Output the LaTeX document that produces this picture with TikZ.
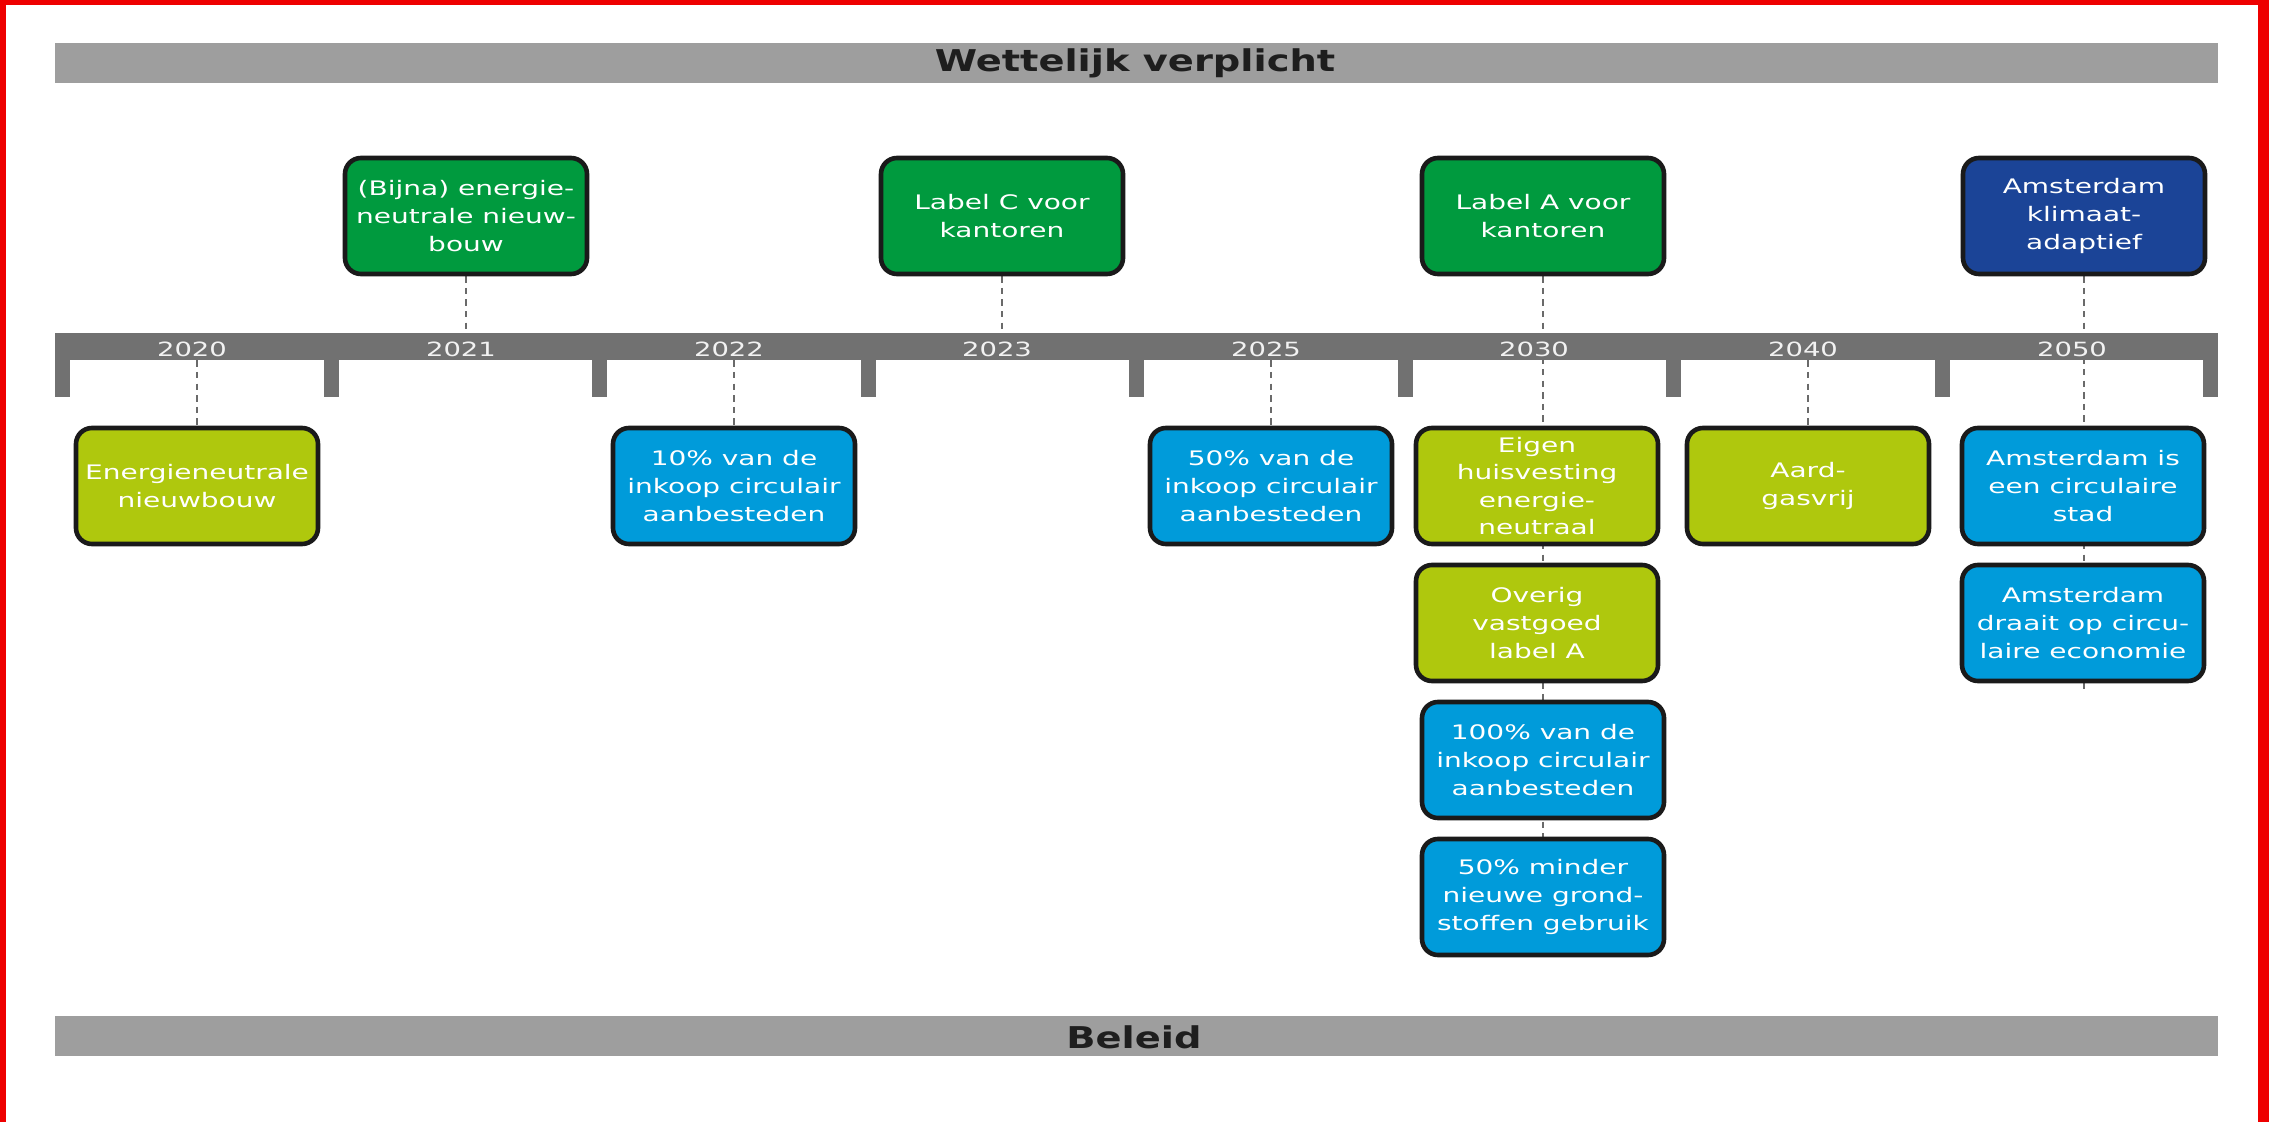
\documentclass[tikz,border=0pt]{standalone}
\usepackage{fontspec}
\newfontfamily\boxfont[FakeStretch=1.4]{DejaVu Sans}
\newfontfamily\headfont[FakeStretch=1.28]{DejaVu Sans}
\usetikzlibrary{backgrounds}
\definecolor{cgreen}{HTML}{009A3E}
\definecolor{clime}{HTML}{AFC80D}
\definecolor{cblue}{HTML}{009BDA}
\definecolor{cdblue}{HTML}{1B4497}
\definecolor{boxline}{HTML}{1A1A1A}
\definecolor{headgray}{HTML}{9E9E9E}
\definecolor{bargray}{HTML}{717171}
\definecolor{dashgray}{HTML}{6A6A6A}
\definecolor{yeartxt}{HTML}{F2F2F2}
\definecolor{headtxt}{HTML}{1E1E1E}
\definecolor{framered}{HTML}{EE0000}
\tikzset{
  tlbox/.style={draw=boxline, line width=2.3pt, rounded corners=8pt,
    minimum width=121pt, minimum height=58pt, inner sep=0pt, align=center,
    text=white, font=\boxfont\fontsize{10}{13.8}\selectfont},
  greenbox/.style={tlbox, fill=cgreen},
  limebox/.style={tlbox, fill=clime},
  bluebox/.style={tlbox, fill=cblue},
  dbluebox/.style={tlbox, fill=cdblue},
  conn/.style={draw=dashgray, line width=1pt, dash pattern=on 3.2pt off 2.6pt},
  yearlbl/.style={font=\boxfont\fontsize{9.8}{11}\selectfont, text=yeartxt, inner sep=0pt},
  headbar/.style={fill=headgray, draw=none, minimum width=1081.5pt, minimum height=20pt, inner sep=0pt},
  headlbl/.style={font=\headfont\bfseries\fontsize{15}{16}\selectfont, text=headtxt, inner sep=0pt, anchor=base},
}
\begin{document}
\begin{tikzpicture}[x=0.5pt, y=-0.5pt]
\useasboundingbox (0,0) rectangle (2269,1122);

% header bars
\node[headbar] (wetbar) at (1136.5,63) {};
\node[headlbl] (wettxt) at (1135,72) {Wettelijk verplicht};
\node[headbar] (belbar) at (1136.5,1036) {};
\node[headlbl] (beltxt) at (1134,1048) {Beleid};

% timeline bar
\node[fill=bargray, draw=none, minimum width=1081.5pt, minimum height=13.5pt, inner sep=0pt] (bar) at (1136.5,346.5) {};
\foreach \i in {0,...,8} {
  \fill[bargray] (55+268.5*\i,345) rectangle ++(15,52);
}
\node[yearlbl] (y2020) at (192,349) {2020};
\node[yearlbl] (y2021) at (461,349) {2021};
\node[yearlbl] (y2022) at (729,349) {2022};
\node[yearlbl] (y2023) at (997,349) {2023};
\node[yearlbl] (y2025) at (1266,349) {2025};
\node[yearlbl] (y2030) at (1534,349) {2030};
\node[yearlbl] (y2040) at (1803,349) {2040};
\node[yearlbl] (y2050) at (2072,349) {2050};

% top boxes
\node[greenbox] (t2021) at (466,216) {(Bijna) energie-\\neutrale nieuw-\\bouw};
\node[greenbox] (t2023) at (1002,216) {Label C voor\\kantoren};
\node[greenbox] (t2030) at (1543,216) {Label A voor\\kantoren};
\node[dbluebox] (t2050) at (2084,216) {Amsterdam\\klimaat-\\adaptief};

% bottom boxes
\node[limebox] (b2020) at (197,486) {Energieneutrale\\nieuwbouw};
\node[bluebox] (b2022) at (734,486) {10\% van de\\inkoop circulair\\aanbesteden};
\node[bluebox] (b2025) at (1271,486) {50\% van de\\inkoop circulair\\aanbesteden};
\node[limebox] (b2030a) at (1537,486) {Eigen\\huisvesting\\energie-\\neutraal};
\node[limebox] (b2030b) at (1537,623) {Overig\\vastgoed\\label A};
\node[bluebox] (b2030c) at (1543,760) {100\% van de\\inkoop circulair\\aanbesteden};
\node[bluebox] (b2030d) at (1543,897) {50\% minder\\nieuwe grond-\\stoffen gebruik};
\node[limebox] (b2040) at (1808,486) {Aard-\\gasvrij};
\node[bluebox] (b2050a) at (2083,486) {Amsterdam is\\een circulaire\\stad};
\node[bluebox] (b2050b) at (2083,623) {Amsterdam\\draait op circu-\\laire economie};
\coordinate (tail2050) at ([yshift=-4pt]b2050b.south);

\begin{pgfonlayer}{background}
  \fill[framered] (0,0) rectangle (2269,1122);
  \fill[white] (6,5) rectangle (2258,1122);
  \draw[conn] (t2021.south) -- (t2021.south |- bar.north);
  \draw[conn] (t2023.south) -- (t2023.south |- bar.north);
  \draw[conn] (t2030.south) -- (t2030.south |- b2030d.north);
  \draw[conn] (t2050.south) -- (t2050.south |- tail2050);
  \draw[conn] (bar.south -| b2020.north) -- (b2020.north);
  \draw[conn] (bar.south -| b2022.north) -- (b2022.north);
  \draw[conn] (bar.south -| b2025.north) -- (b2025.north);
  \draw[conn] (bar.south -| b2040.north) -- (b2040.north);
\end{pgfonlayer}
\end{tikzpicture}
\end{document}
